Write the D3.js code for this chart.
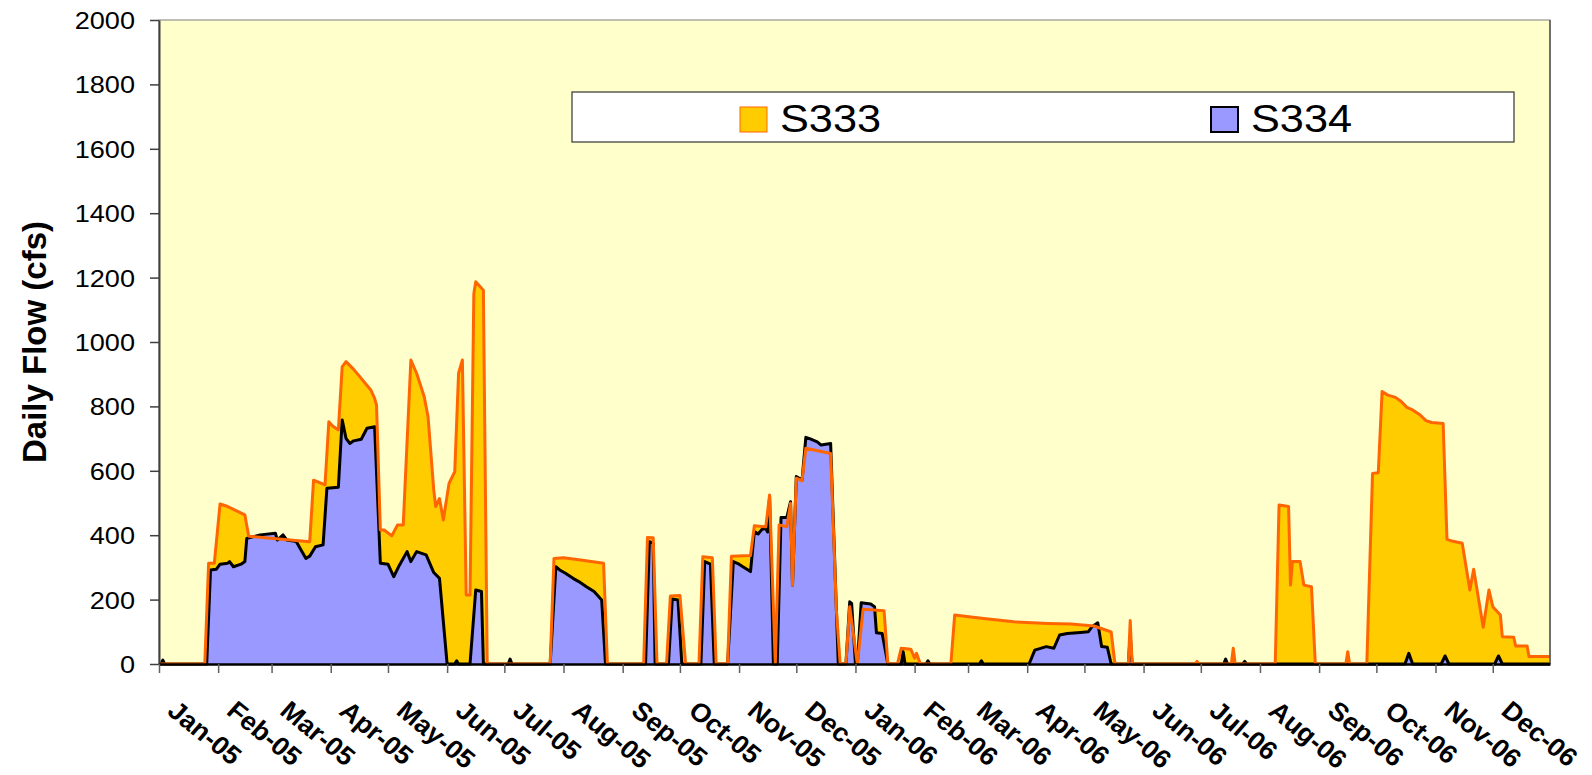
<!DOCTYPE html>
<html>
<head>
<meta charset="utf-8">
<script src="https://cdn.jsdelivr.net/npm/d3@7/dist/d3.min.js"></script>
<style>
  html, body { margin: 0; padding: 0; background: #ffffff; }
  svg { display: block; font-family: "Liberation Sans", Arial, sans-serif; }
</style>
</head>
<body>
<svg id="chart" width="1592" height="775"></svg>
<script>
// ---------------- data ----------------
const seriesNames = ["S333", "S334"];
const yTickValues = [0, 200, 400, 600, 800, 1000, 1200, 1400, 1600, 1800, 2000];
const axisStart = "2005-01-01";
const axisEnd = "2006-12-31";
const yAxisTitle = "Daily Flow (cfs)";

const s333 = [
["2005-01-01",0],["2005-01-25",0],["2005-01-27",313],["2005-01-30",313],["2005-02-02",497],["2005-02-06",489],["2005-02-15",463],["2005-02-17",397],["2005-03-21",380],["2005-03-23",571],["2005-03-29",556],["2005-03-31",752],["2005-04-02",739],["2005-04-05",727],["2005-04-07",923],["2005-04-09",939],["2005-04-13",915],["2005-04-16",894],["2005-04-22",851],["2005-04-24",825],["2005-04-25",804],["2005-04-27",416],["2005-04-29",416],["2005-05-03",398],["2005-05-06",432],["2005-05-09",432],["2005-05-13",944],["2005-05-16",903],["2005-05-20",830],["2005-05-22",768],["2005-05-25",540],["2005-05-26",489],["2005-05-28",514],["2005-05-30",447],["2005-06-02",561],["2005-06-05",597],["2005-06-07",903],["2005-06-09",944],["2005-06-11",214],["2005-06-13",214],["2005-06-15",1150],["2005-06-16",1187],["2005-06-20",1161],["2005-06-22",0],
["2005-07-25",0],["2005-07-27",328],["2005-08-01",330],["2005-08-10",323],["2005-08-22",313],["2005-08-24",0],
["2005-09-12",0],["2005-09-14",393],["2005-09-17",392],["2005-09-19",0],
["2005-09-24",0],["2005-09-26",211],["2005-10-01",213],["2005-10-04",0],
["2005-10-11",0],["2005-10-13",333],["2005-10-18",330],["2005-10-20",0],
["2005-10-26",0],["2005-10-28",335],["2005-11-07",337],["2005-11-09",429],["2005-11-15",426],["2005-11-17",525],["2005-11-20",0],["2005-11-22",432],["2005-11-26",426],["2005-11-28",499],["2005-11-29",245],["2005-12-01",577],["2005-12-04",569],["2005-12-06",670],["2005-12-19",654],["2005-12-22",168],["2005-12-24",0],
["2005-12-27",0],["2005-12-29",178],["2006-01-02",0],["2006-01-05",170],["2006-01-16",165],["2006-01-18",0],
["2006-01-23",0],["2006-01-25",49],["2006-01-30",46],["2006-02-01",18],["2006-02-02",33],["2006-02-04",0],
["2006-02-20",0],["2006-02-22",152],["2006-03-08",142],["2006-03-25",131],["2006-04-12",126],["2006-04-24",124],["2006-05-06",118],["2006-05-11",108],["2006-05-15",100],["2006-05-17",0],
["2006-05-24",0],["2006-05-25",135],["2006-05-26",0],
["2006-06-28",0],["2006-06-29",8],["2006-06-30",0],
["2006-07-17",0],["2006-07-18",49],["2006-07-19",0],
["2006-08-09",0],["2006-08-11",494],["2006-08-16",489],["2006-08-17",245],["2006-08-18",318],["2006-08-22",318],["2006-08-24",245],["2006-08-28",240],["2006-08-30",0],
["2006-09-15",0],["2006-09-16",38],["2006-09-17",0],
["2006-09-26",0],["2006-09-29",592],["2006-10-02",594],["2006-10-04",846],["2006-10-07",835],["2006-10-11",828],["2006-10-14",815],["2006-10-17",797],["2006-10-20",789],["2006-10-24",773],["2006-10-27",756],["2006-10-30",750],["2006-11-05",747],["2006-11-07",387],["2006-11-09",383],["2006-11-15",375],["2006-11-19",230],["2006-11-21",294],["2006-11-26",114],["2006-11-29",230],["2006-12-01",178],["2006-12-05",152],["2006-12-06",85],["2006-12-12",83],["2006-12-13",56],["2006-12-19",56],["2006-12-20",23],["2006-12-31",23]
];

const s334 = [
["2005-01-01",0],["2005-01-02",0],["2005-01-03",12],["2005-01-04",0],["2005-01-26",0],["2005-01-28",292],["2005-01-31",294],["2005-02-02",310],["2005-02-06",313],["2005-02-07",318],["2005-02-09",302],["2005-02-13",310],["2005-02-15",318],["2005-02-16",390],["2005-02-23",401],["2005-03-03",406],["2005-03-04",385],["2005-03-07",401],["2005-03-09",385],["2005-03-14",380],["2005-03-16",359],["2005-03-19",328],["2005-03-21",335],["2005-03-24",364],["2005-03-28",370],["2005-03-30",546],["2005-04-05",549],["2005-04-07",758],["2005-04-09",701],["2005-04-11",685],["2005-04-13",693],["2005-04-17",698],["2005-04-20",732],["2005-04-24",737],["2005-04-27",313],["2005-05-01",310],["2005-05-04",271],["2005-05-07",307],["2005-05-11",349],["2005-05-13",318],["2005-05-16",349],["2005-05-21",339],["2005-05-25",284],["2005-05-28",266],["2005-06-01",0],["2005-06-05",0],["2005-06-06",10],["2005-06-07",0],["2005-06-13",0],["2005-06-16",230],["2005-06-19",225],["2005-06-20",0],["2005-07-03",0],["2005-07-04",15],["2005-07-05",0],
["2005-07-25",0],["2005-07-28",302],["2005-07-30",292],["2005-08-02",282],["2005-08-06",266],["2005-08-09",256],["2005-08-13",240],["2005-08-17",225],["2005-08-21",199],["2005-08-23",0],
["2005-09-13",0],["2005-09-15",380],["2005-09-17",375],["2005-09-18",0],
["2005-09-25",0],["2005-09-27",202],["2005-09-30",199],["2005-10-02",0],
["2005-10-12",0],["2005-10-14",318],["2005-10-17",310],["2005-10-19",0],
["2005-10-26",0],["2005-10-29",318],["2005-11-01",310],["2005-11-03",302],["2005-11-07",287],["2005-11-09",411],["2005-11-11",404],["2005-11-13",418],["2005-11-15",421],["2005-11-16",410],["2005-11-17",520],["2005-11-19",0],["2005-11-21",0],["2005-11-23",455],["2005-11-26",455],["2005-11-28",504],["2005-11-29",245],["2005-12-01",582],["2005-12-04",571],["2005-12-06",704],["2005-12-08",700],["2005-12-12",690],["2005-12-14",680],["2005-12-19",685],["2005-12-23",0],
["2005-12-27",0],["2005-12-29",193],["2005-12-30",188],["2006-01-01",0],["2006-01-02",0],["2006-01-04",190],["2006-01-09",186],["2006-01-11",178],["2006-01-12",97],["2006-01-15",95],["2006-01-18",0],
["2006-01-25",0],["2006-01-26",38],["2006-01-27",0],
["2006-02-07",0],["2006-02-08",10],["2006-02-09",0],
["2006-03-07",0],["2006-03-08",10],["2006-03-09",0],
["2006-04-02",0],["2006-04-05",43],["2006-04-11",54],["2006-04-15",49],["2006-04-18",90],["2006-04-22",95],["2006-04-29",98],["2006-05-03",100],["2006-05-05",116],["2006-05-08",128],["2006-05-10",54],["2006-05-13",52],["2006-05-15",0],
["2006-05-24",0],["2006-05-25",90],["2006-05-26",0],
["2006-07-13",0],["2006-07-14",15],["2006-07-15",0],
["2006-07-23",0],["2006-07-24",8],["2006-07-25",0],
["2006-10-16",0],["2006-10-18",33],["2006-10-20",0],
["2006-11-04",0],["2006-11-06",25],["2006-11-08",0],
["2006-12-02",0],["2006-12-04",25],["2006-12-06",0],
["2006-12-31",0]
];

// ---------------- drawing ----------------
const parse = d3.timeParse("%Y-%m-%d");
const toPts = arr => arr.map(d => ({date: parse(d[0]), value: d[1]}));
const d333 = toPts(s333), d334 = toPts(s334);

const plot = {left: 159, right: 1550, top: 20, bottom: 664};
const svg = d3.select("#chart");

const x = d3.scaleTime().domain([parse(axisStart), parse(axisEnd)]).range([plot.left, plot.right]);
const y = d3.scaleLinear().domain([0, 2000]).range([plot.bottom, plot.top]);

// plot background
svg.append("rect")
  .attr("x", plot.left).attr("y", plot.top)
  .attr("width", plot.right - plot.left).attr("height", plot.bottom - plot.top)
  .attr("fill", "#FFFFCC").attr("stroke", "#808080").attr("stroke-width", 1);

const area = d3.area().x(d => x(d.date)).y0(y(0)).y1(d => y(d.value));
const line = d3.line().x(d => x(d.date)).y(d => y(d.value));

svg.append("path").datum(d333).attr("d", area).attr("fill", "#FFCC00");
svg.append("path").datum(d334).attr("d", area).attr("fill", "#9999FF");
svg.append("path").datum(d334).attr("d", line).attr("fill", "none")
  .attr("stroke", "#000000").attr("stroke-width", 3).attr("stroke-linejoin", "round");
svg.append("path").datum(d333).attr("d", line).attr("fill", "none")
  .attr("stroke", "#FF6600").attr("stroke-width", 3).attr("stroke-linejoin", "round");

// right border redraw (over data)
svg.append("line").attr("x1", plot.right).attr("x2", plot.right)
  .attr("y1", plot.top).attr("y2", plot.bottom).attr("stroke", "#555").attr("stroke-width", 1.5);

// y axis
const yAxis = svg.append("g").attr("transform", `translate(${plot.left},0)`)
  .call(d3.axisLeft(y).tickValues(yTickValues).tickSize(9).tickSizeOuter(0).tickFormat(d3.format("d")));
yAxis.select(".domain").attr("stroke", "#404040").attr("stroke-width", 2);
yAxis.selectAll(".tick line").attr("stroke", "#404040").attr("stroke-width", 1.5);
yAxis.selectAll(".tick text")
  .attr("x", null).attr("dy", "0.35em")
  .attr("text-anchor", "end")
  .attr("transform", "translate(-24,0) scale(1.13,1)")
  .attr("font-family", "'Liberation Sans', Arial, sans-serif")
  .attr("font-size", 24).attr("fill", "#000");

// x axis
const monthTicks = d3.timeMonth.range(parse(axisStart), d3.timeDay.offset(parse(axisEnd), 1));
const xAxis = svg.append("g").attr("transform", `translate(0,${plot.bottom})`)
  .call(d3.axisBottom(x).tickValues(monthTicks).tickSize(9).tickSizeOuter(0)
    .tickFormat(d3.timeFormat("%b-%y")));
xAxis.select(".domain").attr("stroke", "#000").attr("stroke-width", 2.5);
xAxis.selectAll(".tick line").attr("stroke", "#606060").attr("stroke-width", 1.5);
xAxis.selectAll(".tick text")
  .attr("y", 0).attr("x", 0).attr("dy", "0.72em")
  .attr("text-anchor", "start")
  .attr("transform", "translate(19,35) scale(1.04,1) rotate(40)")
  .attr("font-family", "'Liberation Sans', Arial, sans-serif")
  .attr("font-weight", "bold")
  .attr("font-size", 26).attr("fill", "#000");

// y axis title
svg.append("text")
  .attr("transform", `translate(46,${(plot.top + plot.bottom) / 2}) rotate(-90)`)
  .attr("text-anchor", "middle")
  .attr("font-weight", "bold").attr("font-size", 33).attr("fill", "#000")
  .text(yAxisTitle);

// legend
const legend = svg.append("g");
legend.append("rect").attr("x", 572).attr("y", 92).attr("width", 942).attr("height", 50)
  .attr("fill", "#ffffff").attr("stroke", "#333").attr("stroke-width", 1.2);
const legendItems = [
  {name: seriesNames[0], fill: "#FFCC00", stroke: "#FF6600", sw: 1, sx: 740},
  {name: seriesNames[1], fill: "#9999FF", stroke: "#000000", sw: 2, sx: 1211}
];
legendItems.forEach(it => {
  legend.append("rect").attr("x", it.sx).attr("y", 107).attr("width", 27).attr("height", 25)
    .attr("fill", it.fill).attr("stroke", it.stroke).attr("stroke-width", it.sw);
  legend.append("text")
    .attr("transform", `translate(${it.sx + 40},132) scale(1.11,1)`)
    .attr("font-size", 39).attr("fill", "#000")
    .text(it.name);
});
</script>
</body>
</html>
